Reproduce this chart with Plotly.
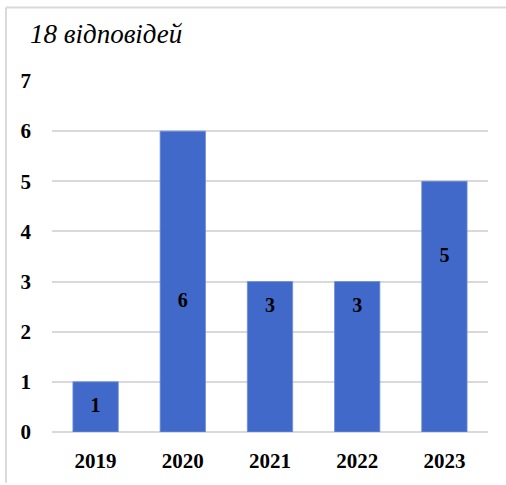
import plotly.graph_objects as go

years = ["2019", "2020", "2021", "2022", "2023"]
counts = [1, 6, 3, 3, 5]
label_y = [0.5, 2.6, 2.5, 2.5, 3.5]
title_text = "18 відповідей"

SERIF = '"Liberation Serif", "Times New Roman", "DejaVu Serif", serif'

W, H = 506, 485
L, R, T, B = 52, 18, 81, 51
pw, ph = W - L - R, H - T - B

def px(x):
    return (x - L) / pw

def py(y):
    return (H - B - y) / ph

fig = go.Figure()
fig.add_trace(go.Bar(
    x=years, y=counts,
    marker=dict(color="#4169C9", line=dict(width=0.8, color="#6f8fd8")),
    width=0.52,
    hoverinfo="skip",
))
fig.add_trace(go.Scatter(
    x=years, y=label_y,
    mode="text",
    text=[str(c) for c in counts],
    textposition="middle center",
    textfont=dict(family=SERIF, size=20, color="black", weight="bold"),
    hoverinfo="skip",
))

fig.update_layout(
    width=W, height=H,
    margin=dict(l=L, r=R, t=T, b=B),
    paper_bgcolor="white", plot_bgcolor="white",
    showlegend=False,
    font=dict(family=SERIF, color="black"),
    xaxis=dict(
        showgrid=False, showline=False, zeroline=False, ticks="",
        tickfont=dict(family=SERIF, size=21, color="black", weight="bold"),
        ticklabelstandoff=14,
    ),
    yaxis=dict(
        range=[0, 7], dtick=1, tick0=0,
        showgrid=True, gridcolor="#d9d9d9", gridwidth=1.5,
        zeroline=True, zerolinecolor="#d9d9d9", zerolinewidth=1.5,
        showline=False, ticks="",
        tickfont=dict(family=SERIF, size=21, color="black", weight="bold"),
        ticklabelstandoff=20,
    ),
    annotations=[dict(
        text=title_text, xref="paper", yref="paper",
        x=px(28), y=py(34), xanchor="left", yanchor="middle",
        showarrow=False,
        font=dict(family=SERIF, size=27, color="black", style="italic"),
    )],
    shapes=[
        dict(type="line", xref="paper", yref="paper",
             x0=px(6), x1=px(506), y0=py(7), y1=py(7),
             line=dict(color="#d9d9d9", width=2)),
        dict(type="line", xref="paper", yref="paper",
             x0=px(6), x1=px(6), y0=py(7), y1=py(485),
             line=dict(color="#d9d9d9", width=2)),
    ],
)

fig.write_html(
    "out.html",
    config={"displayModeBar": False},
    post_script="document.body.style.margin='0';document.body.style.padding='0';",
)
